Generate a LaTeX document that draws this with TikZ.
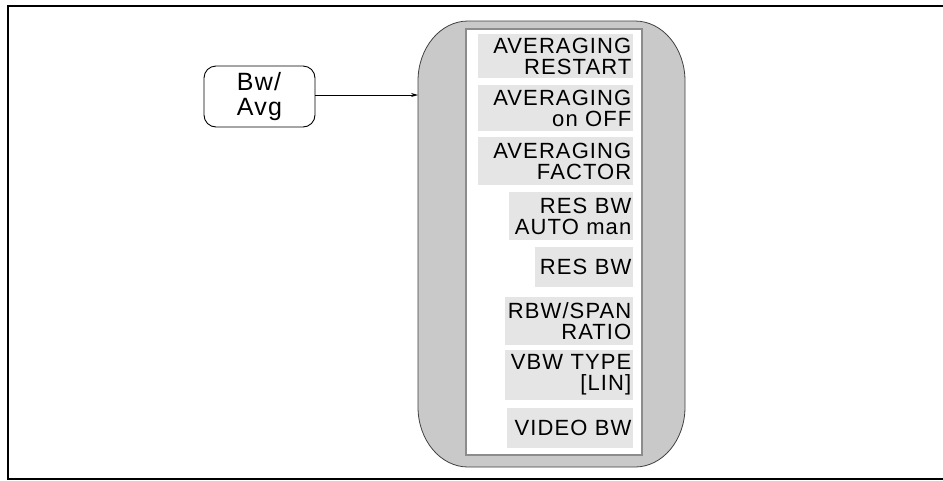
\documentclass[tikz,border=0pt]{standalone}
\usepackage{fontspec}
\setmainfont{Liberation Sans}
\newfontfamily\keyfont{Liberation Sans}[LetterSpace=5]
\usetikzlibrary{arrows.meta}
\begin{document}
\begin{tikzpicture}[x=1pt,y=-1pt,
 frame/.style={line width=2pt,black},
 menushape/.style={fill=black!21,draw=black!75,line width=0.8pt},
 panel/.style={fill=white,draw=black!45,line width=1.2pt},
 softkey/.style={fill=black!10,anchor=east,inner xsep=1.5pt,inner ysep=0pt,align=right,font=\keyfont\fontsize{22}{21}\selectfont},
 hardkey/.style={draw,line width=0.9pt,rounded corners=12pt,minimum width=111pt,minimum height=61pt,align=left,font=\keyfont\fontsize{25}{25}\selectfont,inner sep=0pt},
 link/.style={line width=0.8pt,-{Stealth[length=7pt,width=4pt]}}
]
\useasboundingbox (0,0) rectangle (943,480);
\fill[white] (0,0) rectangle (943,480);
\draw[frame] (946,6) -- (8,6) -- (8,479) -- (946,479);

\draw[menushape] (468,21) -- (635,21)
  arc[start angle=-90,end angle=0,x radius=50,y radius=60] -- (685,407)
  arc[start angle=0,end angle=90,x radius=50,y radius=60] -- (468,467)
  arc[start angle=90,end angle=180,x radius=50,y radius=60] -- (418,81)
  arc[start angle=180,end angle=270,x radius=50,y radius=60] -- cycle;
\draw[panel] (466,29) rectangle (642,455);

\node[softkey,text width=152pt,minimum height=44pt] (k1) at (633,56) {AVERAGING\\RESTART};
\node[softkey,text width=152pt,minimum height=46pt] (k2) at (633,108) {AVERAGING\\on OFF};
\node[softkey,text width=152pt,minimum height=48pt] (k3) at (633,161) {AVERAGING\\FACTOR};
\node[softkey,text width=121pt,minimum height=48pt] (k4) at (633,216) {RES BW\\AUTO man};
\node[softkey,text width=95pt,minimum height=40pt] (k5) at (633,267) {RES BW};
\node[softkey,text width=125pt,minimum height=48pt] (k6) at (633,321) {RBW/SPAN\\RATIO};
\node[softkey,text width=125pt,minimum height=50pt] (k7) at (633,375) {VBW TYPE\\{[LIN]}};
\node[softkey,text width=123pt,minimum height=40pt] (k8) at (633,428) {VIDEO BW};

\node[hardkey] (bw) at (259.5,96.5) {Bw/\\Avg};
\coordinate (menuin) at (418,95);
\draw[link] (bw.east |- menuin) -- (menuin);
\end{tikzpicture}
\end{document}
